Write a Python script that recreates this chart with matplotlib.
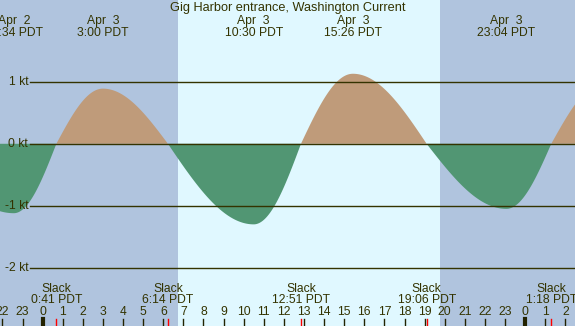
import numpy as np
import matplotlib
matplotlib.use("Agg")
import matplotlib.pyplot as plt
import matplotlib.transforms as mtransforms

# event times in hours from Apr 3 00:00 PDT, current in knots
event_hours = [-5.9, -1.433, 0.683, 3.0, 6.233, 10.5, 12.85, 15.433, 19.1, 23.067, 25.3, 28.0]
event_knots = [0.0, -1.12, 0.0, 0.89, 0.0, -1.30, 0.0, 1.13, 0.0, -1.05, 0.0, 1.0]

top_hours = [-1.433, 3.0, 10.5, 15.433, 23.067]
top_dates = ["Apr  2", "Apr  3", "Apr  3", "Apr  3", "Apr  3"]
top_times = ["22:34 PDT", "3:00 PDT", "10:30 PDT", "15:26 PDT", "23:04 PDT"]
slack_hours = [0.683, 6.233, 12.85, 19.1, 25.3]
slack_times = ["0:41 PDT", "6:14 PDT", "12:51 PDT", "19:06 PDT", "1:18 PDT"]
hour_ticks = list(range(-2, 27))
kt_levels = [1, 0, -1, -2]
daylight = (6.73, 19.77)

NIGHT = "#b0c4de"
DAY = "#e0f8ff"
FLOOD = "#bf9b7a"
EBB = "#519673"
INK = "#333300"
H = 326.0

plt.rcParams["font.family"] = ["Liberation Sans", "DejaVu Sans"]

fig = plt.figure(figsize=(5.75, 3.26), dpi=100)
ax = fig.add_axes([0, 0, 1, 1])
x0, x1 = -2.12, 26.48
ax.set_xlim(x0, x1)
ax.set_ylim(-2.94, 2.32)
ax.axis("off")
fig.patch.set_facecolor(NIGHT)
ax.axvspan(x0, x1, color=NIGHT, zorder=0, lw=0)
ax.axvspan(daylight[0], daylight[1], color=DAY, zorder=0.5, lw=0)

# quarter-sine segments: slack -> peak rises like sin, peak -> slack falls like cos
t_all, v_all = [], []
for i in range(len(event_hours) - 1):
    ta, tb = event_hours[i], event_hours[i + 1]
    va, vb = event_knots[i], event_knots[i + 1]
    s = np.linspace(0, 1, 120)
    if va == 0:
        seg = vb * np.sin(np.pi / 2 * s)
    else:
        seg = va * np.cos(np.pi / 2 * s)
    t_all.append(ta + (tb - ta) * s)
    v_all.append(seg)
t_all = np.concatenate(t_all)
v_all = np.concatenate(v_all)
ax.fill_between(t_all, 0, v_all, where=v_all >= 0, interpolate=True,
                color=FLOOD, lw=0, zorder=1)
ax.fill_between(t_all, 0, v_all, where=v_all <= 0, interpolate=True,
                color=EBB, lw=0, zorder=1)

fs = 8.7
for k in kt_levels:
    ax.plot([-0.63, x1], [k, k], color=INK, lw=1, zorder=2)
    ax.text(-0.72, k, f"{k} kt", ha="right", va="center", fontsize=fs, color=INK)

tr = mtransforms.blended_transform_factory(ax.transData, ax.transAxes)


def put(x, y_px, s, size=fs, **kw):
    ax.text(x, 1 - y_px / H, s, transform=kw.pop("transform", tr), ha="center",
            va="baseline", fontsize=size, color=INK, **kw)


put(0.5, 10.7, "Gig Harbor entrance, Washington Current", size=9.2,
    transform=ax.transAxes)
for h, d, t in zip(top_hours, top_dates, top_times):
    put(h, 24, d)
    put(h, 36, t)
for h, t in zip(slack_hours, slack_times):
    put(h, 291.7, "Slack")
    put(h, 302.7, t)
    ax.plot([h, h], [0, 7 / H], transform=tr, color="red", lw=1, zorder=3)

for h in hour_ticks:
    put(h, 315, str(h % 24))
    ax.plot([h, h], [0, 7 / H], transform=tr, color="#222200",
            lw=3 if h % 24 == 0 else 1, zorder=3)

fig.savefig("out.png", dpi=100, facecolor=NIGHT)
